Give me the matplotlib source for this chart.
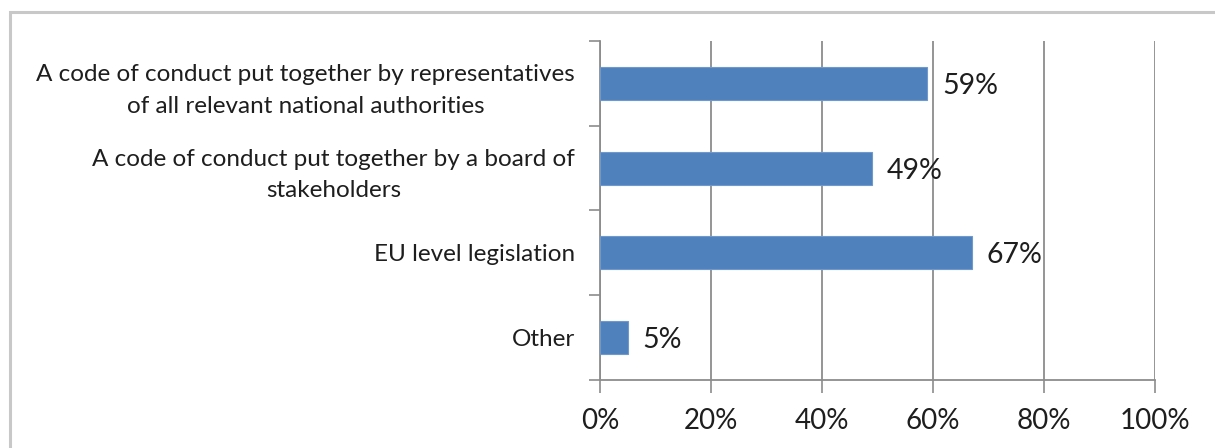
import numpy as np
import matplotlib
matplotlib.use("Agg")
import matplotlib.pyplot as plt
from matplotlib.patches import Rectangle
from matplotlib.ticker import FixedLocator

plt.rcParams['font.family'] = ['Lato', 'DejaVu Sans']

categories = [
    "A code of conduct put together by representatives\nof all relevant national authorities",
    "A code of conduct put together by a board of\nstakeholders",
    "EU level legislation",
    "Other",
]
shares = [59, 49, 67, 5]
x_ticks = [0, 20, 40, 60, 80, 100]

bar_color = "#4f81bd"
grid_color = "#8c8c8c"
text_color = "#1e1e1e"

fig = plt.figure(figsize=(12.15, 4.48), dpi=100)
ax = fig.add_axes([600 / 1215, 1 - 380 / 448, 555 / 1215, 339 / 448])

y = np.arange(len(categories))
ax.barh(y, shares, height=0.39, color=bar_color, edgecolor="#6f98cc", linewidth=0.8, zorder=3)

for yi, v in zip(y, shares):
    ax.text(v + 2.7, yi + 0.03, f"{v}%", va="center", ha="left",
            fontsize=20.5, color=text_color, zorder=4)

ax.set_xlim(0, 100)
ax.set_ylim(len(categories) - 0.5, -0.5)

ax.set_xticks(x_ticks)
ax.set_xticklabels([f"{t}%" for t in x_ticks], fontsize=20, color=text_color)
ax.tick_params(axis="x", direction="out", length=9, width=1.2, color=grid_color, pad=11)

ax.set_yticks(y)
ax.set_yticklabels(categories, fontsize=17.5, color=text_color, ha="right",
                   multialignment="center", linespacing=1.6)
ax.tick_params(axis="y", length=0, pad=18)
ax.yaxis.set_minor_locator(FixedLocator(np.arange(-0.5, len(categories), 1.0)))
ax.tick_params(axis="y", which="minor", direction="out", length=8, width=1.2, color=grid_color)

ax.grid(axis="x", color=grid_color, linewidth=1.3, zorder=0)
for side in ["top", "right"]:
    ax.spines[side].set_visible(False)
for side in ["left", "bottom"]:
    ax.spines[side].set_color(grid_color)
    ax.spines[side].set_linewidth(1.3)

# light frame around the chart area
fig.add_artist(Rectangle((10 / 1215, -0.2), 1.2, 1.2 - 12 / 448, transform=fig.transFigure,
                         fill=False, edgecolor="#c8c8c8", linewidth=2.2))

fig.savefig("out.png", dpi=100)
